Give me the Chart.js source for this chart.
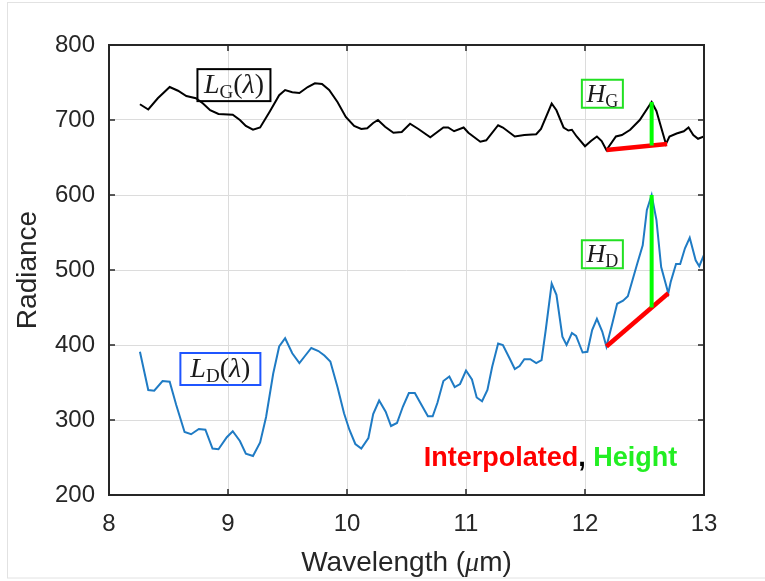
<!DOCTYPE html>
<html>
<head>
<meta charset="utf-8">
<script src="https://cdn.jsdelivr.net/npm/chart.js@4/dist/chart.umd.min.js"></script>
<style>
  html, body { margin: 0; padding: 0; background: #fff; }
  #wrap { width: 765px; height: 581px; position: relative; }
</style>
</head>
<body>
<div id="wrap"><canvas id="radChart" width="765" height="581"></canvas></div>
<script>
// Ground radiance L_G(lambda)
const wavelengthG = [
  8.26, 8.33, 8.41, 8.51, 8.58, 8.65, 8.73, 8.79, 8.85, 8.92, 9.04, 9.10, 9.15, 9.21, 9.27,
  9.35, 9.43, 9.48, 9.54, 9.60, 9.67, 9.73, 9.79, 9.85, 9.92, 9.99, 10.06, 10.12, 10.17,
  10.22, 10.26, 10.32, 10.39, 10.46, 10.53, 10.60, 10.70, 10.81, 10.85, 10.90, 10.98,
  11.02, 11.12, 11.17, 11.27, 11.31, 11.41, 11.49, 11.59, 11.63, 11.72, 11.76, 11.82,
  11.86, 11.89, 11.93, 12.00, 12.05, 12.10, 12.14, 12.18, 12.26, 12.31, 12.38, 12.46,
  12.56, 12.60, 12.68, 12.71, 12.77, 12.83, 12.87, 12.91, 12.95, 13.00
];
const radianceG = [
  721, 714, 729, 744, 739, 732, 729, 722, 713, 708, 707, 700, 692, 687, 690,
  711, 733, 740, 737, 736, 744, 749, 748, 740, 724, 704, 692, 688, 689,
  696, 700, 691, 683, 684, 695, 688, 677, 690, 690, 685, 690,
  683, 671, 673, 693, 690, 678, 680, 681, 688, 722, 713, 690,
  686, 687, 678, 665, 672, 678, 672, 660, 678, 680, 687, 700,
  724, 712, 668, 678, 682, 685, 690, 680, 675, 678
];

// Dust radiance L_D(lambda)
const wavelengthD = [
  8.26, 8.33, 8.38, 8.45, 8.51, 8.565, 8.635, 8.69, 8.755, 8.81, 8.87, 8.92, 8.99, 9.04,
  9.10, 9.15, 9.21, 9.27, 9.32, 9.38, 9.43, 9.48, 9.54, 9.60, 9.645, 9.70, 9.76, 9.81,
  9.86, 9.92, 9.975, 10.02, 10.07, 10.12, 10.18, 10.22, 10.27, 10.325, 10.37, 10.42,
  10.47, 10.52, 10.57, 10.63, 10.68, 10.72, 10.76, 10.81, 10.86, 10.905, 10.95, 11.00,
  11.05, 11.09, 11.135, 11.18, 11.22, 11.27, 11.31, 11.37, 11.41, 11.45, 11.49, 11.54,
  11.59, 11.635, 11.67, 11.72, 11.76, 11.81, 11.845, 11.89, 11.925, 11.98, 12.02, 12.06,
  12.10, 12.145, 12.18, 12.23, 12.27, 12.32, 12.36, 12.40, 12.44, 12.485, 12.52, 12.56,
  12.60, 12.64, 12.70, 12.72, 12.765, 12.80, 12.84, 12.88, 12.93, 12.96, 13.00
];
const radianceD = [
  391, 340, 339, 352, 351, 320, 284, 281, 288, 287, 262, 261, 277, 285,
  272, 255, 252, 270, 304, 362, 398, 409, 389, 376, 385, 396, 392, 386,
  378, 344, 309, 287, 268, 262, 276, 308, 326, 311, 292, 296,
  318, 336, 336, 319, 305, 305, 323, 352, 358, 344, 348, 366,
  354, 330, 325, 340, 371, 402, 400, 381, 368, 372, 381, 381,
  376, 380, 420, 482, 467, 411, 400, 416, 412, 390, 391, 420,
  435, 418, 398, 429, 455, 459, 465, 487, 509, 533, 580, 600,
  567, 504, 469, 484, 508, 508, 529, 543, 513, 505, 520
];

// Interpolated baselines (red) and peak heights (green)
const interpGx = [12.18, 12.69];
const interpGy = [660, 668];
const heightGx = [12.56, 12.56];
const heightGy = [666, 724];
const interpDx = [12.18, 12.70];
const interpDy = [398, 469];
const heightDx = [12.56, 12.56];
const heightDy = [450, 600];

const xTicks = [8, 9, 10, 11, 12, 13];
const yTicks = [200, 300, 400, 500, 600, 700, 800];

const axisColor = '#262626';
const serif = '"Liberation Serif", "DejaVu Serif", serif';
const sans = '"Liberation Sans", Arial, sans-serif';

const pts = (xs, ys) => xs.map((x, i) => ({ x: x, y: ys[i] }));

// Math-style labels: [text, font, baseline shift]
const labelLG = [['L', 'italic 28px ' + serif, 0], ['G', '19px ' + serif, 5], ['(', '28px ' + serif, 0], ['\u03bb', 'italic 28px ' + serif, 0], [')', '28px ' + serif, 0]];
const labelLD = [['L', 'italic 28px ' + serif, 0], ['D', '19px ' + serif, 5], ['(', '28px ' + serif, 0], ['\u03bb', 'italic 28px ' + serif, 0], [')', '28px ' + serif, 0]];
const labelHG = [['H', 'italic 26px ' + serif, 0], ['G', '18px ' + serif, 5]];
const labelHD = [['H', 'italic 26px ' + serif, 0], ['D', '18px ' + serif, 5]];

// boxes anchored at data centre, size in px
const boxes = [
  { parts: labelLG, cx: 9.05, cy: 746.5, w: 73, h: 32, color: '#000000' },
  { parts: labelLD, cx: 8.936, cy: 368, w: 80, h: 32, color: '#1f55ff' },
  { parts: labelHG, cx: 12.146, cy: 735, w: 41, h: 28, color: '#22e022' },
  { parts: labelHD, cx: 12.146, cy: 521, w: 41, h: 28, color: '#22e022' }
];

function drawParts(ctx, parts, cx, baseY, color) {
  let total = 0;
  parts.forEach(p => { ctx.font = p[1]; total += ctx.measureText(p[0]).width; });
  let x = cx - total / 2;
  ctx.fillStyle = color;
  ctx.textBaseline = 'alphabetic';
  ctx.textAlign = 'left';
  parts.forEach(p => {
    ctx.font = p[1];
    ctx.fillText(p[0], x, baseY + p[2]);
    x += ctx.measureText(p[0]).width;
  });
}

const decor = {
  id: 'decor',
  beforeDraw(chart) {
    const ctx = chart.ctx;
    ctx.save();
    ctx.strokeStyle = '#e2e2e2';
    ctx.lineWidth = 1;
    ctx.strokeRect(7.5, 2.5, 770, 575.5);
    ctx.restore();
  },
  afterDatasetsDraw(chart) {
    const { ctx, scales: { x, y } } = chart;
    ctx.save();
    boxes.forEach(b => {
      const px = x.getPixelForValue(b.cx);
      const py = y.getPixelForValue(b.cy);
      ctx.strokeStyle = b.color;
      ctx.lineWidth = 2;
      ctx.strokeRect(px - b.w / 2, py - b.h / 2, b.w, b.h);
      drawParts(ctx, b.parts, px, py + 8, '#1a1a1a');
    });
    // coloured caption for the two overlays
    const tx = x.getPixelForValue(10.645);
    const ty = y.getPixelForValue(238.7);
    ctx.font = 'bold 27px ' + sans;
    ctx.textAlign = 'left';
    ctx.textBaseline = 'alphabetic';
    let cur = tx;
    [['Interpolated', '#ff0000'], [', ', '#000000'], ['Height', '#22ee22']].forEach(s => {
      ctx.fillStyle = s[1];
      ctx.fillText(s[0], cur, ty);
      cur += ctx.measureText(s[0]).width;
    });
    ctx.restore();
  },
  afterDraw(chart) {
    const { ctx, chartArea: a, scales: { x, y } } = chart;
    ctx.save();
    ctx.strokeStyle = axisColor;
    ctx.lineWidth = 2;
    ctx.strokeRect(a.left, a.top, a.right - a.left, a.bottom - a.top);
    ctx.lineWidth = 1.5;
    ctx.beginPath();
    xTicks.forEach(v => {
      const px = x.getPixelForValue(v);
      ctx.moveTo(px, a.bottom); ctx.lineTo(px, a.bottom - 6);
      ctx.moveTo(px, a.top); ctx.lineTo(px, a.top + 6);
    });
    yTicks.forEach(v => {
      const py = y.getPixelForValue(v);
      ctx.moveTo(a.left, py); ctx.lineTo(a.left + 6, py);
      ctx.moveTo(a.right, py); ctx.lineTo(a.right - 6, py);
    });
    ctx.stroke();

    // axis titles
    const midX = (a.left + a.right) / 2;
    drawParts(ctx, [['Wavelength (', '28px ' + sans, 0], ['\u03bc', 'italic 28px ' + serif, 0], ['m)', '28px ' + sans, 0]], midX, 571, axisColor);
    ctx.translate(36, (a.top + a.bottom) / 2);
    ctx.rotate(-Math.PI / 2);
    ctx.font = '28px ' + sans;
    ctx.fillStyle = axisColor;
    ctx.textAlign = 'center';
    ctx.textBaseline = 'alphabetic';
    ctx.fillText('Radiance', 0, 0);
    ctx.restore();
  }
};

const lineStyle = { pointRadius: 0, tension: 0, fill: false };

new Chart(document.getElementById('radChart'), {
  type: 'line',
  data: {
    datasets: [
      { ...lineStyle, label: 'LG', data: pts(wavelengthG, radianceG), borderColor: '#000000', borderWidth: 2, order: 3 },
      { ...lineStyle, label: 'LD', data: pts(wavelengthD, radianceD), borderColor: '#1f7bc4', borderWidth: 2, order: 3 },
      { ...lineStyle, label: 'interpG', data: pts(interpGx, interpGy), borderColor: '#ff0000', borderWidth: 4.5, order: 2 },
      { ...lineStyle, label: 'interpD', data: pts(interpDx, interpDy), borderColor: '#ff0000', borderWidth: 4.5, order: 2 },
      { ...lineStyle, label: 'heightG', data: pts(heightGx, heightGy), borderColor: '#00ff00', borderWidth: 4, order: 1 },
      { ...lineStyle, label: 'heightD', data: pts(heightDx, heightDy), borderColor: '#00ff00', borderWidth: 4, order: 1 }
    ]
  },
  options: {
    responsive: false,
    animation: false,
    events: [],
    layout: { padding: { left: 0, top: 45, right: 61, bottom: 0 } },
    plugins: { legend: { display: false }, tooltip: { enabled: false } },
    scales: {
      x: {
        type: 'linear',
        min: 8,
        max: 13,
        afterFit: (s) => { s.height = 86; },
        afterBuildTicks: (s) => { s.ticks = xTicks.map(v => ({ value: v })); },
        border: { display: false },
        grid: { color: '#dcdcdc', lineWidth: 1, drawTicks: false },
        ticks: { padding: 15, color: axisColor, font: { family: sans, size: 24 }, maxRotation: 0 }
      },
      y: {
        type: 'linear',
        min: 200,
        max: 800,
        afterFit: (s) => { s.width = 109; },
        afterBuildTicks: (s) => { s.ticks = yTicks.map(v => ({ value: v })); },
        border: { display: false },
        grid: { color: '#dcdcdc', lineWidth: 1, drawTicks: false },
        ticks: { padding: 14, color: axisColor, font: { family: sans, size: 24 } }
      }
    }
  },
  plugins: [decor]
});
</script>
</body>
</html>
